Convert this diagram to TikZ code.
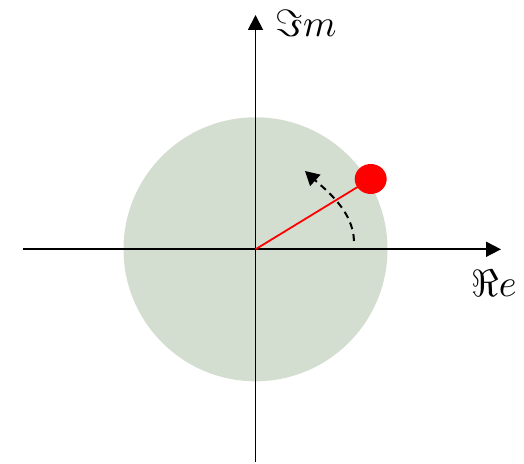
\documentclass[tikz,border=0pt]{standalone}
\usetikzlibrary{arrows.meta,shapes.geometric}
\definecolor{disk}{RGB}{212,222,208}
\definecolor{dotred}{RGB}{255,0,0}
\tikzset{
  axis/.style={line width=1.8pt,-{Triangle[length=15pt,width=15pt]}},
  rayline/.style={draw=dotred,line width=1.8pt},
  rotarrow/.style={line width=2pt,dash pattern=on 7pt off 5pt,-{Triangle[length=14pt,width=15pt]}},
  axlabel/.style={anchor=base,inner sep=0pt,scale=3.8}
}
\begin{document}
\begin{tikzpicture}[x=1pt,y=1pt]
\useasboundingbox (0,0) rectangle (524,463);
\coordinate (O) at (255.5,213.7);
\fill[disk] (O) circle[radius=132];
\coordinate (xl) at (22.5,213.7);
\coordinate (xr) at (501,213.7);
\coordinate (yb) at (255.5,1);
\coordinate (yt) at (255.5,448);
\draw[axis] (xl) -- (xr);
\draw[axis] (yb) -- (yt);
\node[fill=dotred,ellipse,minimum width=32pt,minimum height=30pt,inner sep=0pt] (dot) at (370.7,284) {};
\draw[rayline] (O) -- (dot.center);
\coordinate (as) at (354,222);
\coordinate (ae) at (305,292);
\draw[rotarrow] (as) .. controls (353,252) and (327,272) .. (ae);
\node[axlabel] (im) at (306,426) {$\Im m$};
\node[axlabel] (re) at (494,166) {$\Re e$};
\end{tikzpicture}
\end{document}
